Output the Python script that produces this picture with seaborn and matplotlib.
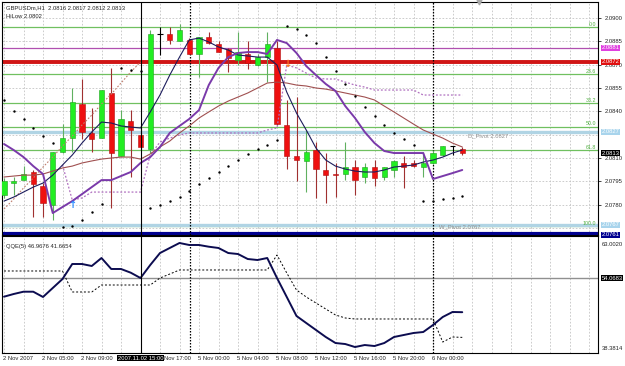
import numpy as np
import pandas as pd
import seaborn as sns
import matplotlib.pyplot as plt

sns.set_style("white")
plt.rcParams["font.family"] = ["Liberation Sans", "DejaVu Sans"]
plt.rcParams["font.size"] = 4.2
FS = 4.2


# =========================
# Data (GBPUSDm, H1)
# =========================
opens = [2.0786, 2.0794, 2.0796, 2.0801, 2.0792, 2.0780, 2.0814, 2.0823, 2.0845, 2.0826,
         2.0823, 2.0852, 2.0811, 2.0834, 2.0825, 2.0816, 2.0890, 2.0890, 2.0885, 2.0886,
         2.0877, 2.0888, 2.0883, 2.0880, 2.0873, 2.0877, 2.0870, 2.0875, 2.0881, 2.0831,
         2.0811, 2.0808, 2.0815, 2.0802, 2.0800, 2.0800, 2.0804, 2.0798, 2.0804, 2.0798,
         2.0802, 2.0807, 2.0807, 2.0804, 2.0807, 2.0812, 2.0818, 2.0816]
highs = [2.0797, 2.0798, 2.0805, 2.0802, 2.0794, 2.0814, 2.0832, 2.0855, 2.0861, 2.0842,
         2.0854, 2.0868, 2.0841, 2.0841, 2.0830, 2.0892, 2.0894, 2.0894, 2.0896, 2.0887,
         2.0888, 2.0891, 2.0885, 2.0881, 2.0891, 2.0885, 2.0877, 2.0891, 2.0885, 2.0847,
         2.0849, 2.0828, 2.0820, 2.0813, 2.0807, 2.0820, 2.0809, 2.0807, 2.0809, 2.0804,
         2.0809, 2.0811, 2.0809, 2.0814, 2.0815, 2.0818, 2.0818, 2.0817]
lows = [2.0784, 2.0786, 2.0796, 2.0772, 2.0772, 2.0770, 2.0813, 2.0814, 2.0822, 2.0814,
        2.0823, 2.0778, 2.0811, 2.0798, 2.0816, 2.0813, 2.0876, 2.0883, 2.0885, 2.0877,
        2.0862, 2.0883, 2.0878, 2.0865, 2.0870, 2.0867, 2.0869, 2.0859, 2.0831, 2.0803,
        2.0795, 2.0788, 2.0784, 2.0781, 2.0785, 2.0796, 2.0786, 2.0794, 2.0792, 2.0796,
        2.0798, 2.0791, 2.0804, 2.0798, 2.0806, 2.0811, 2.0812, 2.0812]
closes = [2.0795, 2.0795, 2.0800, 2.0793, 2.0781, 2.0814, 2.0823, 2.0846, 2.0827, 2.0822,
          2.0854, 2.0813, 2.0835, 2.0828, 2.0817, 2.0890, 2.0890, 2.0886, 2.0892, 2.0877,
          2.0888, 2.0884, 2.0878, 2.0874, 2.0878, 2.0871, 2.0875, 2.0883, 2.0832, 2.0811,
          2.0809, 2.0814, 2.0803, 2.0799, 2.0799, 2.0804, 2.0796, 2.0804, 2.0797, 2.0804,
          2.0808, 2.0804, 2.0805, 2.0807, 2.0813, 2.0818, 2.0818, 2.0813]

ma_fast = [2.07823, 2.07849, 2.07881, 2.07913, 2.07939, 2.07990, 2.08055, 2.08119, 2.08196, 2.08267,
           2.08331, 2.08325, 2.08306, 2.08299, 2.08293, 2.08396, 2.08505, 2.08633, 2.08749, 2.08859,
           2.08871, 2.08846, 2.08814, 2.08794, 2.08762, 2.08756, 2.08749, 2.08749, 2.08698, 2.08524,
           2.08389, 2.08280, 2.08164, 2.08087, 2.08048, 2.08029, 2.08016, 2.08010, 2.08010, 2.08023,
           2.08042, 2.08048, 2.08055, 2.08074, 2.08087, 2.08106, 2.08132, 2.08151]
ma_purple = [2.08190, 2.08151, 2.08106, 2.08048, 2.07997, 2.07746, 2.07785, 2.07823, 2.07868, 2.07913,
             2.07958, 2.07958, 2.07984, 2.08010, 2.08068, 2.08106, 2.08171, 2.08261, 2.08306, 2.08351,
             2.08408, 2.08569, 2.08679, 2.08749, 2.08775, 2.08781, 2.08781, 2.08769, 2.08859, 2.08839,
             2.08775, 2.08691, 2.08633, 2.08576, 2.08531, 2.08434, 2.08357, 2.08267, 2.08196, 2.08145,
             2.08132, 2.08132, 2.08132, 2.08132, 2.07965, 2.07984, 2.08003, 2.08023]
ma_slow = [2.07978, 2.07984, 2.07990, 2.07990, 2.07997, 2.08016, 2.08036, 2.08048, 2.08068, 2.08081,
           2.08093, 2.08100, 2.08106, 2.08106, 2.08093, 2.08126, 2.08171, 2.08209, 2.08261, 2.08306,
           2.08357, 2.08396, 2.08434, 2.08466, 2.08492, 2.08518, 2.08550, 2.08582, 2.08588, 2.08582,
           2.08569, 2.08563, 2.08550, 2.08543, 2.08531, 2.08518, 2.08505, 2.08492, 2.08473, 2.08434,
           2.08396, 2.08357, 2.08318, 2.08280, 2.08254, 2.08228, 2.08196, 2.08171]
hilow = [np.nan] * 6 + [
    2.08055, 2.07830, 2.07843, 2.07881, 2.07881, 2.07881, 2.07881, 2.07881, 2.07881, 2.08119,
    2.08203, 2.08228, 2.08248, 2.08261, 2.08261, 2.08261, 2.08261, 2.08261, 2.08261, 2.08261,
    2.08261, 2.08280, 2.08293, 2.08698, 2.08679, 2.08646, 2.08614, 2.08608, 2.08608, 2.08588,
    2.08569, 2.08556, 2.08537, 2.08537, 2.08537, 2.08537, 2.08537, 2.08505, 2.08505, 2.08505,
    2.08505, 2.08505]
hi_trend = [2.07772, 2.07836, 2.07907, 2.07971, 2.08042, 2.08106, 2.08177, 2.08241, 2.08312, 2.08376,
            2.08447, 2.08511, 2.08582, 2.08653, 2.08717] + [np.nan] * 33
sar = [2.08473, 2.08402, 2.08351, 2.08293, 2.08241, 2.08196, 2.07656, 2.07663, 2.07701, 2.07753,
       2.07804, np.nan, 2.08679, 2.08666, 2.08659, 2.07778, 2.07798, 2.07823, 2.07849, 2.07888,
       2.07933, 2.07971, 2.08010, 2.08048, 2.08087, 2.08126, 2.08158, 2.08183, 2.08216, 2.08949,
       2.08929, 2.08891, 2.08839, 2.08749, 2.08659, 2.08576, 2.08498, 2.08428, 2.08370, 2.08312,
       2.08261, 2.08222, 2.08183, 2.07823, 2.07823, 2.07836, 2.07843, 2.07855]

qqe_fast = [50.23, 50.80, 51.28, 51.28, 50.17, 52.06, 53.95, 57.11, 57.11, 56.69,
            58.37, 56.06, 56.06, 55.28, 54.16, 56.90, 59.42, 60.48, 61.53, 61.11,
            61.11, 60.75, 60.48, 59.42, 59.21, 58.16, 57.95, 58.37, 54.16, 50.17,
            46.17, 44.69, 43.22, 41.75, 40.48, 40.27, 39.64, 40.06, 39.85, 40.48,
            41.75, 42.17, 42.59, 42.80, 44.27, 45.96, 47.01, 46.97]
qqe_slow = [55.64] * 7 + [51.22] * 3 + [52.69] * 6 + [54.16, 55.00] + [55.85] * 10 + [
    59.00, 55.22, 51.64, 50.17, 48.90, 47.64, 46.38, 45.75] + [45.54] * 9 + [40.69, 41.75, 41.67]

fib_levels = [2.0894, 2.08638, 2.08451, 2.0830, 2.08149, 2.0766]
fib_names = ["0.0", "23.6", "38.2", "50.0", "61.8", "100.0"]

price_ticks = [2.0780, 2.0795, 2.0810, 2.0840, 2.0855, 2.0870, 2.0885, 2.0900]
grid_prices = [2.0765, 2.0780, 2.0795, 2.0810, 2.0825, 2.0840, 2.0855, 2.0870, 2.0885, 2.0900]
time_bars = [0, 4, 8, 16.5, 20, 24, 28, 32, 36, 40, 44]
time_labels = ["2 Nov 2007", "2 Nov 05:00", "2 Nov 09:00", "Nov 17:00",
               "5 Nov 00:00", "5 Nov 04:00", "5 Nov 08:00", "5 Nov 12:00", "5 Nov 16:00",
               "5 Nov 20:00", "6 Nov 00:00"]

df = pd.DataFrame({"bar": np.arange(len(opens)), "open": opens, "high": highs, "low": lows,
                   "close": closes, "ma_fast": ma_fast, "ma_purple": ma_purple,
                   "ma_slow": ma_slow, "hilow": hilow, "hi_trend": hi_trend, "sar": sar,
                   "qqe_fast": qqe_fast, "qqe_slow": qqe_slow})


# =========================
# Figure layout (pixels -> fractions)
# =========================
W, H = 625, 366
fig = plt.figure(figsize=(W / 100, H / 100), dpi=100)
fig.patch.set_facecolor("white")


def px_axes(left, top, right, bottom):
    return fig.add_axes([left / W, 1 - bottom / H, (right - left) / W, (bottom - top) / H])


ax = px_axes(2, 2, 598, 235)
ax2 = px_axes(2, 236, 598, 353)

xlim = ((2 - 4) / 9.75, (598 - 4) / 9.75)
grid_kw = dict(color="#c4c4c4", lw=0.6, ls=(0, (2, 2)), zorder=0)

for a in (ax, ax2):
    a.set_xlim(*xlim)
    a.set_facecolor("white")
    for s in a.spines.values():
        s.set_color("black")
        s.set_linewidth(0.8)
    for gx in range(0, 62, 2):
        a.axvline(gx, **grid_kw)
    a.set_xticks([])

ax.set_ylim(2.07605, 2.09103)
ax2.set_ylim(38.3814, 63.0020)

# =========================
# Main price panel
# =========================
for p in grid_prices:
    ax.axhline(p, **grid_kw)

for lvl, name in zip(fib_levels, fib_names):
    ax.axhline(lvl, color="#70c060", lw=0.9, zorder=1)
    ax.text(0.997, lvl + 0.00003, name, transform=ax.get_yaxis_transform(), ha="right",
            va="bottom", color="#50b040", fontsize=3.8)

ax.axhline(2.0881, color="#b050b0", lw=0.9, zorder=1)
ax.axhline(2.0872, color="#d01515", lw=2.8, zorder=1)
ax.axhline(2.0827, color="#b0d4e4", lw=2.4, zorder=1)
ax.axhline(2.0767, color="#b0d4e4", lw=2.4, zorder=1)
ax.axhline(2.07612, color="#000090", lw=3, zorder=1)
ax.text(47.6, 2.08245, "D_Pivot 2.0827", color="#909090", fontsize=FS, va="center")
ax.text(44.6, 2.07656, "W_Pivot 2.0767", color="#909090", fontsize=FS, va="center")

# candles
up = df[df.close > df.open]
dn = df[df.close < df.open]
dj = df[df.close == df.open]
ax.vlines(up.bar, up.low, up.high, color="#60b060", lw=0.8, zorder=3)
ax.vlines(dn.bar, dn.low, dn.high, color="#a03030", lw=0.8, zorder=3)
ax.vlines(dj.bar, dj.low, dj.high, color="black", lw=0.8, zorder=3)
ax.bar(up.bar, up.close - up.open, bottom=up.open, width=0.55, color="#22ee22",
       edgecolor="#20a020", lw=0.4, zorder=4)
ax.bar(dn.bar, dn.open - dn.close, bottom=dn.close, width=0.55, color="#ee1010",
       edgecolor="#b01010", lw=0.4, zorder=4)
ax.hlines(dj.close, dj.bar - 0.3, dj.bar + 0.3, color="black", lw=0.8, zorder=4)

# indicator lines
sns.lineplot(data=df, x="bar", y="hi_trend", ax=ax, color="#c08070", lw=0.8,
             linestyle=(0, (1.5, 1.5)), zorder=5)
sns.lineplot(data=df, x="bar", y="hilow", ax=ax, color="#b070c0", lw=0.9,
             linestyle=(0, (1.5, 1.5)), zorder=5)
sns.lineplot(data=df, x="bar", y="ma_slow", ax=ax, color="#a05050", lw=0.8, zorder=5)
sns.lineplot(data=df, x="bar", y="ma_fast", ax=ax, color="#1c1c5c", lw=0.8, zorder=6)
sns.lineplot(data=df, x="bar", y="ma_purple", ax=ax, color="#7a3aaa", lw=1.4, zorder=6)
sns.scatterplot(data=df, x="bar", y="sar", ax=ax, color="black", s=3, linewidth=0, zorder=7)

ax.text(29, 2.08704, "\u2193", color="#ff7a20", fontsize=7, fontweight="bold",
        ha="center", va="center", family="DejaVu Sans", zorder=8)
ax.text(7, 2.07798, "\u2191", color="#2a8cff", fontsize=7, fontweight="bold",
        ha="center", va="center", family="DejaVu Sans", zorder=8)

ax.text(0.006, 0.985, "GBPUSDm,H1  2.0816 2.0817 2.0812 2.0813", transform=ax.transAxes,
        fontsize=FS, va="top")
ax.text(0.006, 0.950, "HiLow 2.0802", transform=ax.transAxes, fontsize=FS, va="top")
ax.plot([48.7], [2.09103], marker="v", color="#a8a8a8", ms=3.5, clip_on=False, zorder=9)

ax.yaxis.tick_right()
ax.set_yticks(price_ticks)
ax.set_yticklabels([f"{p:.4f}" for p in price_ticks])
ax.tick_params(axis="y", labelsize=FS, pad=3, length=2, width=0.6)
ax.set_xlabel("")
ax.set_ylabel("")


def right_label(a, y, text, fc, tc="white"):
    a.text(1.0065, y, text, transform=a.get_yaxis_transform(), fontsize=FS, color=tc,
           ha="left", va="center", clip_on=False, zorder=10,
           bbox=dict(boxstyle="square,pad=0.08", fc=fc, ec="none"))


right_label(ax, 2.0881, "2.0881", "#e040e0")
right_label(ax, 2.0872, "2.0872", "#e01010")
right_label(ax, 2.0827, "2.0827", "#a8d4ec")
right_label(ax, 2.0813, "2.0813", "black")
right_label(ax, 2.0767, "2.0767", "#a8d4ec")
right_label(ax, 2.07608, "2.0761", "#000090")

# =========================
# QQE panel
# =========================
ax2.axhline(54.0683, color="#909090", lw=1, zorder=1)
sns.lineplot(data=df, x="bar", y="qqe_slow", ax=ax2, color="black", lw=0.7,
             linestyle=(0, (2, 2)), zorder=4)
sns.lineplot(data=df, x="bar", y="qqe_fast", ax=ax2, color="#0c0c50", lw=1.4, zorder=5)
ax2.text(0.006, 0.93, "QQE(5) 46.9676 41.6654", transform=ax2.transAxes, fontsize=FS, va="top")
ax2.set_yticks([])
ax2.set_xlabel("")
ax2.set_ylabel("")
ax2.text(1.0065, 1 - 9 / 117, "63.0020", transform=ax2.transAxes, fontsize=FS, va="center",
         clip_on=False)
ax2.text(1.0065, 5 / 117, "38.3814", transform=ax2.transAxes, fontsize=FS, va="center",
         clip_on=False)
right_label(ax2, 54.0683, "54.0683", "black")

# separators and crosshair through both panels
for a in (ax, ax2):
    for sx in (19.1, 44):
        a.axvline(sx, color="black", lw=0.9, ls=(0, (1.2, 1.2)), zorder=2)
    a.axvline(14, color="black", lw=0.8, zorder=9)

# time axis labels
for b, lab in zip(time_bars, time_labels):
    ax2.text(b - 0.1, -5 / 117, lab, transform=ax2.get_xaxis_transform(), fontsize=FS,
             ha="left", va="center", clip_on=False)
ax2.text(14, -5 / 117, "2007.11.02 15:00", transform=ax2.get_xaxis_transform(), fontsize=FS,
         color="white", ha="center", va="center", clip_on=False, zorder=10,
         bbox=dict(boxstyle="square,pad=0.08", fc="black", ec="none"))

fig.savefig("out.png", dpi=100)
